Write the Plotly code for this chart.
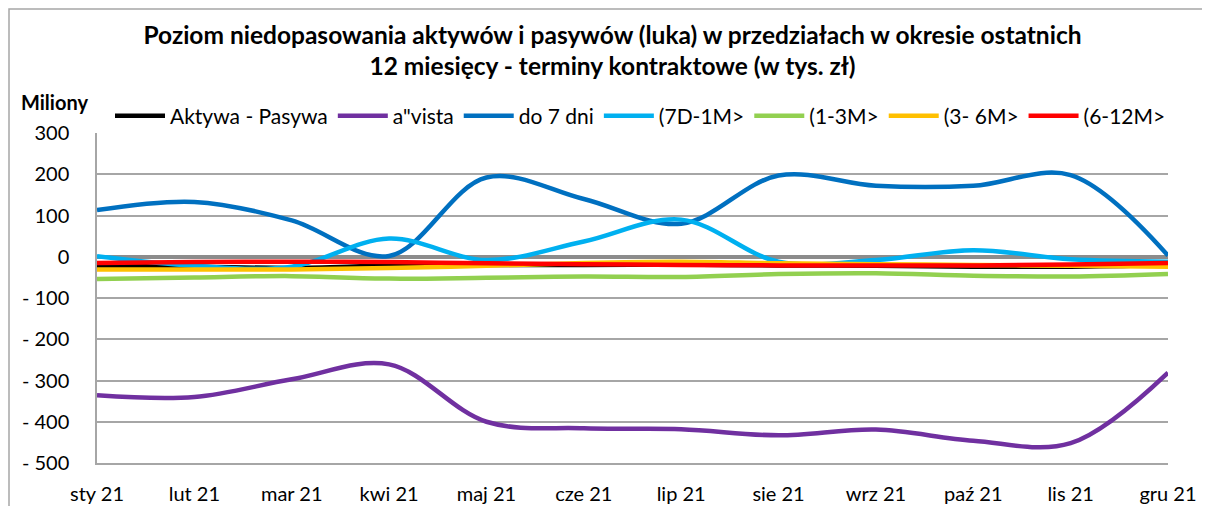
import plotly.graph_objects as go

categories = ["sty 21", "lut 21", "mar 21", "kwi 21", "maj 21", "cze 21",
              "lip 21", "sie 21", "wrz 21", "paź 21", "lis 21", "gru 21"]

aktywa_pasywa = [-22, -24, -27, -22, -20, -20, -19, -21, -22, -24, -24, -20]
a_vista = [-336, -340, -297, -261, -400, -416, -418, -433, -419, -446, -452, -281]
do_7_dni = [113, 133, 88, 2, 192, 140, 80, 197, 172, 172, 198, 3]
d7_1m = [1, -22, -24, 44, -8, 37, 90, -12, -8, 16, -6, -12]
m1_3 = [-54, -50, -47, -53, -51, -48, -49, -42, -40, -46, -48, -42]
m3_6 = [-31, -31, -31, -27, -22, -15, -12, -16, -18, -20, -22, -24]
m6_12 = [-15, -13, -12, -13, -16, -18, -20, -21, -21, -21, -19, -15]

series = [
    ("Aktywa - Pasywa", aktywa_pasywa, "#000000"),
    ("a\"vista", a_vista, "#7030A0"),
    ("do 7 dni", do_7_dni, "#0070C0"),
    ("(7D-1M>", d7_1m, "#00B0F0"),
    ("(1-3M>", m1_3, "#92D050"),
    ("(3- 6M>", m3_6, "#FFC000"),
    ("(6-12M>", m6_12, "#FF0000"),
]

y_ticks = [300, 200, 100, 0, -100, -200, -300, -400, -500]
y_ticktext = ["300", "200", "100", "0", "- 100", "- 200", "- 300", "- 400", "- 500"]

FONT = "Lato"

fig = go.Figure()
for name, vals, color in series:
    fig.add_trace(go.Scatter(
        x=categories, y=vals, name=name, mode="lines",
        line=dict(color=color, width=4.5, shape="spline", smoothing=1),
    ))

# page has an 8px body margin; figure coords = page coords - 8
OFF = 8
W, H = 1210 - OFF, 506 - OFF
L = 97 - OFF
T = 133 - OFF
R = W - (1168 - OFF)
B = H - (463 - OFF)
pw = W - L - R
ph = H - T - B


def px_y(page_y):
    return ((463 - OFF) - (page_y - OFF)) / ph


def px_x(page_x):
    return ((page_x - OFF) - L) / pw


fig.update_layout(
    width=W, height=H,
    margin=dict(l=L, r=R, t=T, b=B, autoexpand=False),
    paper_bgcolor="white", plot_bgcolor="white",
    font=dict(family=FONT, color="#000000", size=20),
    title=dict(
        text="<b>Poziom niedopasowania aktywów i pasywów (luka) w przedziałach w okresie ostatnich<br>12 miesięcy - terminy kontraktowe (w tys. zł)</b>",
        x=(612.5 - OFF) / W, xanchor="center", y=1 - (43.5 - OFF) / H, yanchor="middle",
        font=dict(family=FONT, size=24.5, color="#000000"),
    ),
    showlegend=True,
    legend=dict(
        orientation="h", x=px_x(110), xanchor="left",
        y=px_y(116), yanchor="middle",
        font=dict(family=FONT, size=21, color="#000000"),
        bgcolor="rgba(0,0,0,0)", itemwidth=50,
        traceorder="normal",
    ),
    xaxis=dict(
        type="category", range=[0, len(categories) - 1],
        showgrid=False, showline=True, linecolor="#A6A6A6", linewidth=1.5,
        ticks="", tickfont=dict(family=FONT, size=20), ticklabelstandoff=12,
        zeroline=False,
    ),
    yaxis=dict(
        range=[-500, 300], tickvals=y_ticks, ticktext=y_ticktext,
        showgrid=True, gridcolor="#A6A6A6", gridwidth=1.5,
        showline=True, linecolor="#A6A6A6", linewidth=1.5,
        zeroline=True, zerolinecolor="#8C8C8C", zerolinewidth=4,
        ticks="", tickfont=dict(family=FONT, size=20), ticklabelstandoff=22,
    ),
    annotations=[dict(
        text="<b>Miliony</b>", xref="paper", yref="paper",
        x=px_x(54), y=px_y(102), xanchor="center", yanchor="middle",
        showarrow=False, font=dict(family=FONT, size=20, color="#000000"),
    )],
    shapes=[dict(
        type="rect", xref="paper", yref="paper",
        x0=(1 - L) / pw, x1=(1300 - L) / pw,
        y0=px_y(600), y1=((463 - OFF) - 1) / ph,
        line=dict(color="#A6A6A6", width=1.5), layer="below",
    )],
)

fig.write_html("out.html")
